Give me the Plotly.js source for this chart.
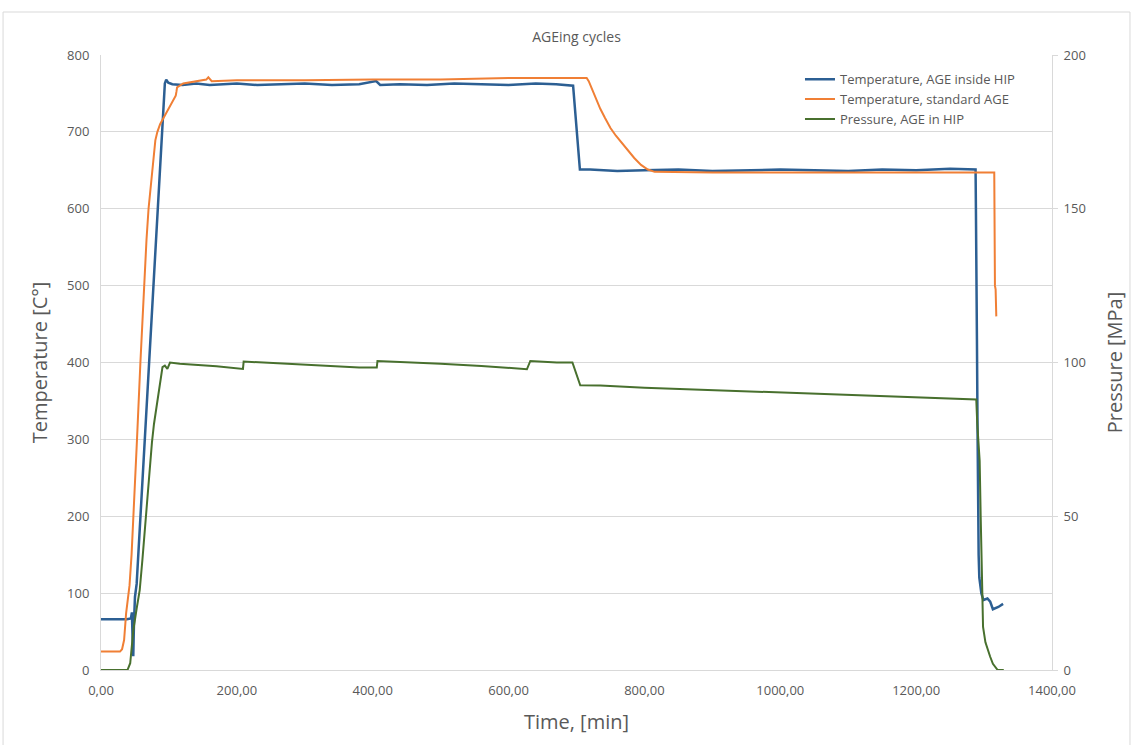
<!DOCTYPE html>
<html>
<head>
<meta charset="utf-8">
<script src="https://cdn.plot.ly/plotly-3.0.1.min.js"></script>
<style>
html,body{margin:0;padding:0;background:#fff;}
#chart{width:1132px;height:745px;}
</style>
</head>
<body>
<div id="chart"></div>
<script>
// Temperature, AGE inside HIP
const blueTime = [0, 20, 38, 44, 45.5, 46.5, 47.5, 48.5, 50, 52.5, 60, 70, 80, 89, 91.5, 94, 96, 99, 105, 120, 140, 160, 180, 200, 230, 260, 300, 340, 380, 405, 408, 411, 440, 480, 520, 560, 600, 640, 670, 695, 699, 702, 705, 720, 760, 800, 850, 900, 950, 1000, 1050, 1100, 1150, 1200, 1250, 1287.5, 1288, 1288.5, 1289.5, 1290.5, 1291, 1292, 1293, 1296, 1299, 1305, 1309, 1313, 1321, 1328];
const blueTemp = [66, 66, 66, 67, 75, 40, 18, 60, 95, 112, 230, 390, 545, 689, 740, 763, 768, 764, 762, 761, 763, 761, 762, 763, 761, 762, 763, 761, 762, 766, 763, 761, 762, 761, 763, 762, 761, 763, 762, 760, 720, 680, 651, 651, 649, 650, 651, 649, 650, 651, 650, 649, 651, 650, 652, 651, 600, 450, 430, 300, 160, 150, 120, 100, 91, 93, 89, 79, 82, 86];

// Temperature, standard AGE
const orangeTime = [0, 28, 31, 34, 37, 40, 42, 45, 48, 53, 58, 63, 67, 70, 73, 75, 78, 80, 83, 87, 92, 99, 106, 110, 111, 112, 121, 141, 155, 158, 163, 200, 300, 400, 500, 600, 715, 718, 722, 728, 735, 742, 750, 758, 766, 775, 785, 795, 805, 815, 900, 1000, 1100, 1200, 1315, 1316, 1317, 1318];
const orangeTemp = [24, 24, 27, 39, 74, 95, 110, 150, 200, 300, 400, 500, 560, 600, 630, 650, 675, 689, 700, 710, 718, 730, 741, 747, 752, 758, 763, 766, 768, 771, 766, 767, 767, 768, 768, 770, 770, 766, 757, 744, 730, 718, 705, 695, 686, 676, 666, 657, 651, 648, 647, 647, 647, 647, 647, 500, 495, 460];

// Pressure, AGE in HIP
const greenTime = [0, 39, 43, 47.6, 52.5, 57, 61, 66, 70, 75, 78, 82, 86, 90.5, 94, 97.7, 101.6, 116, 170, 209, 210, 234, 300, 380, 406, 407, 500, 560, 627, 632, 671, 694, 705.5, 735, 800, 900, 1000, 1100, 1200, 1288.5, 1290, 1293.5, 1295, 1297, 1298.5, 1302, 1306, 1309, 1313, 1317, 1320, 1329];
const greenPress = [0, 0, 2.2, 13, 20, 26, 36, 50, 61, 74, 80, 85.5, 91, 98.5, 99, 97.9, 100, 99.6, 98.8, 97.9, 100.3, 100, 99.3, 98.4, 98.4, 100.5, 99.6, 98.9, 97.8, 100.5, 100, 100, 92.6, 92.5, 91.8, 91, 90.2, 89.5, 88.7, 88, 80, 68, 50, 32, 14, 9, 6, 4.3, 2, 0.7, 0, 0];

const seriesNames = ["Temperature, AGE inside HIP", "Temperature, standard AGE", "Pressure, AGE in HIP"];

const gray = "#595959";
const font = "Open Sans, Noto Sans, sans-serif";

const traces = [
  {x: blueTime, y: blueTemp, name: seriesNames[0], type: "scatter", mode: "lines",
   line: {color: "#2c5f93", width: 2.5}, yaxis: "y"},
  {x: orangeTime, y: orangeTemp, name: seriesNames[1], type: "scatter", mode: "lines",
   line: {color: "#f07f35", width: 2}, yaxis: "y"},
  {x: greenTime, y: greenPress, name: seriesNames[2], type: "scatter", mode: "lines",
   line: {color: "#48702e", width: 2}, yaxis: "y2"}
];

const layout = {
  width: 1132, height: 745,
  margin: {l: 101, r: 80, t: 55, b: 75},
  paper_bgcolor: "#fff", plot_bgcolor: "#fff",
  separators: ", ",
  font: {family: font, color: gray, size: 13},
  title: {text: "AGEing cycles", font: {size: 14, color: gray, family: font},
          x: 0.5, xref: "paper", y: 0.95, yref: "container", yanchor: "middle"},
  showlegend: true,
  legend: {x: 0.735, y: 0.985, xanchor: "left", yanchor: "top",
           bgcolor: "rgba(0,0,0,0)", font: {size: 13, color: gray, family: font},
           tracegroupgap: 0, itemwidth: 30},
  xaxis: {range: [0, 1400], dtick: 200, tickformat: ".2f", showgrid: false,
          showline: true, linecolor: "#d9d9d9", linewidth: 1, zeroline: false,
          ticks: "", ticklabelstandoff: 8, tickfont: {size: 13, color: gray},
          title: {text: "Time, [min]", font: {size: 20, color: gray}, standoff: 17}},
  yaxis: {range: [0, 800], dtick: 100, showgrid: true, gridcolor: "#d9d9d9",
          showline: true, linecolor: "#d9d9d9", zeroline: false, ticks: "",
          ticklabelstandoff: 8, tickfont: {size: 13, color: gray},
          title: {text: "Temperature [C°]", font: {size: 20, color: gray}, standoff: 14}},
  yaxis2: {range: [0, 200], dtick: 50, overlaying: "y", side: "right", showgrid: false,
           showline: true, linecolor: "#d9d9d9", zeroline: false, ticks: "outside",
           ticklen: 5, tickcolor: "#d9d9d9", ticklabelstandoff: 3, tickfont: {size: 13, color: gray},
           title: {text: "Pressure [MPa]", font: {size: 20, color: gray}, standoff: 23}},
  shapes: [{type: "rect", xref: "paper", yref: "paper",
            x0: -0.103, x1: 1.082, y0: -0.2, y1: 1.0699,
            line: {color: "#d9d9d9", width: 1}, fillcolor: "rgba(0,0,0,0)", layer: "below"}]
};

Plotly.newPlot("chart", traces, layout, {displayModeBar: false, staticPlot: true});
</script>
</body>
</html>
